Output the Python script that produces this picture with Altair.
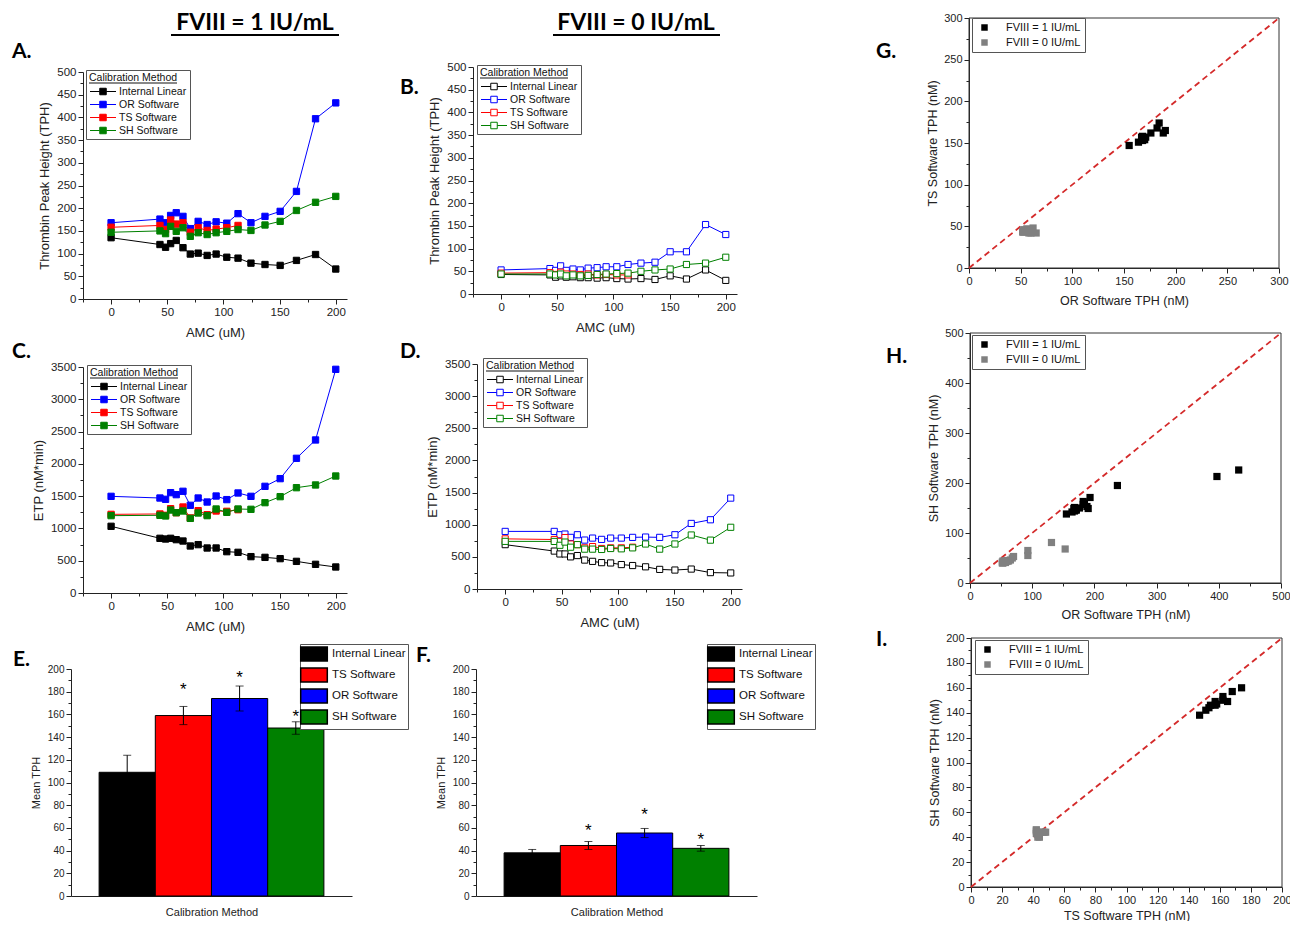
import altair as alt
import pandas as pd

W, H = 1282, 913
FONT = "Liberation Sans"
HFONT = "Lato"

# ---------------- data ----------------
AMC = [0, 43.5, 48.5, 53, 58, 64, 70.5, 77.5, 85.5, 93.5, 103, 113, 124.5, 137, 150.5, 165, 182, 200]
METHODS = ["Internal Linear", "OR Software", "TS Software", "SH Software"]
LINE_COLORS = ["#000000", "#0000ff", "#ff0000", "#008000"]

# Thrombin peak height, FVIII = 1 IU/mL (panel A)
tph1_il = [135, 120, 114, 122, 129, 113, 99, 101, 96, 99, 92, 90, 79, 76, 74, 85, 98, 66]
tph1_or = [168, 176, 168, 184, 190, 182, 155, 171, 164, 170, 167, 188, 168, 182, 193, 237, 397, 432]
tph1_ts = [158, 162, 153, 174, 165, 168, 147, 157, 151, 154, 157, 162]
tph1_sh = [147, 150, 144, 160, 149, 157, 138, 146, 142, 146, 149, 153, 151, 163, 171, 195, 213, 226]

# Thrombin peak height, FVIII = 0 IU/mL (panel B)
tph0_il = [43, 42, 37, 40, 37, 38, 36, 36, 35, 36, 34, 33, 34, 32, 40, 33, 53, 30]
tph0_or = [53, 56, 52, 62, 52, 55, 53, 57, 58, 60, 60, 65, 68, 70, 93, 93, 153, 131]
tph0_ts = [46, 47, 43, 48, 44, 44, 43, 44, 42, 43, 42, 42]
tph0_sh = [44, 44, 42, 44, 40, 42, 40, 41, 43, 44, 45, 46, 50, 53, 55, 65, 68, 81]

# ETP, FVIII = 1 IU/mL (panel C)
etp1_il = [1033, 847, 836, 847, 826, 805, 728, 749, 697, 697, 640, 630, 563, 552, 532, 490, 444, 403]
etp1_or = [1497, 1471, 1451, 1554, 1523, 1575, 1358, 1471, 1409, 1502, 1446, 1549, 1497, 1652, 1771, 2086, 2370, 3464]
etp1_ts = [1218, 1224, 1203, 1306, 1244, 1332, 1162, 1275, 1213, 1270, 1265, 1290]
etp1_sh = [1198, 1203, 1193, 1285, 1244, 1270, 1156, 1239, 1198, 1301, 1249, 1301, 1296, 1399, 1492, 1631, 1673, 1812]

# ETP, FVIII = 0 IU/mL (panel D)
etp0_il = [690, 590, 545, 545, 500, 520, 450, 430, 410, 405, 380, 365, 345, 305, 295, 310, 255, 250]
etp0_or = [896, 896, 844, 855, 803, 844, 761, 792, 772, 792, 792, 803, 808, 803, 844, 1020, 1077, 1414]
etp0_ts = [780, 770, 740, 800, 700, 690, 640, 660, 630, 640, 640, 650]
etp0_sh = [741, 740, 680, 730, 650, 690, 620, 620, 615, 630, 625, 640, 700, 620, 700, 840, 760, 960]

# Mean TPH bars (panels E, F)
BAR_METHODS = ["Internal Linear", "TS Software", "OR Software", "SH Software"]
BAR_COLORS = ["#000000", "#ff0000", "#0000ff", "#008000"]
mean1 = [109, 159, 174, 148]
err1 = [15, 8, 11, 5.5]
star1 = [184, 195, 160]
mean0 = [38, 44.5, 55.5, 42]
err0 = [3, 3.5, 4, 2.5]
star0 = [60, 74, 52]

GROUPS = ["FVIII = 1 IU/mL", "FVIII = 0 IU/mL"]
GROUP_COLORS = ["#000000", "#808080"]


# ---------------- helpers ----------------
def minor_axis(orient, offset, values):
    return alt.Axis(orient=orient, offset=offset, values=values, labels=False, domain=False,
                    title=None, tickSize=3, grid=False)


def mids(lo, hi, step):
    return [v + step / 2 for v in range(lo, hi, step)]


def line_panel(series, ymax, ystep, ytitle, xr, yr, hollow, lx, ly):
    rows = [{"AMC": a, "Method": m, "Value": v}
            for m, vals in zip(METHODS, series) for a, v in zip(AMC, vals)]
    df = pd.DataFrame(rows)
    xs = alt.Scale(domain=[-25, 210], range=xr, nice=False, zero=False)
    ys = alt.Scale(domain=[0, ymax], range=yr, nice=False, zero=False)
    xax = alt.Axis(orient="bottom", offset=yr[0] - H, values=[0, 50, 100, 150, 200],
                   title="AMC (uM)", labelFlush=False, labelFontSize=11.5, titleFontSize=13,
                   titlePadding=9, format="d")
    yax = alt.Axis(orient="left", offset=-xr[0], values=list(range(0, ymax + 1, ystep)),
                   title=ytitle, labelFlush=False, labelFontSize=11.5, titleFontSize=13,
                   titlePadding=5, format="d")
    cs = alt.Scale(domain=METHODS, range=LINE_COLORS)
    leg = alt.Legend(orient="none", legendX=lx, legendY=ly, title="Calibration Method",
                     symbolType="M-2,0H-0.5M0.5,0H2M-0.5,-0.5H0.5V0.5H-0.5Z",
                     symbolSize=169, symbolStrokeWidth=1, symbolOffset=7,
                     labelOffset=9, labelFontSize=10.5, titleFontSize=10.5,
                     titleFontWeight="normal", strokeColor="#555",
                     padding=3, rowPadding=0, titlePadding=1, labelColor="#111",
                     titleColor="#111")
    line = alt.Chart(df).mark_line(strokeWidth=1).encode(
        x=alt.X("AMC:Q", scale=xs, axis=xax), y=alt.Y("Value:Q", scale=ys, axis=yax),
        stroke=alt.Stroke("Method:N", scale=cs, legend=leg))
    X = alt.X("AMC:Q", scale=xs, axis=None)
    Y = alt.Y("Value:Q", scale=ys, axis=None)
    if hollow:
        pts = alt.Chart(df).mark_point(shape="square", filled=True, fill="white",
                                        size=38, strokeWidth=1, opacity=1).encode(
            x=X, y=Y, stroke=alt.Stroke("Method:N", scale=cs, legend=leg))
    else:
        pts = alt.Chart(df).mark_point(shape="square", filled=True, size=40,
                                        strokeWidth=1, opacity=1).encode(
            x=X, y=Y,
            fill=alt.Fill("Method:N", scale=cs, legend=leg),
            stroke=alt.Stroke("Method:N", scale=cs, legend=leg))
    minor = alt.Chart(df).mark_point(opacity=0).encode(
        x=alt.X("AMC:Q", scale=xs, axis=minor_axis("bottom", yr[0] - H, [-25, 25, 75, 125, 175])),
        y=alt.Y("Value:Q", scale=ys, axis=minor_axis("left", -xr[0], mids(0, ymax, ystep))))
    uline = alt.Chart(pd.DataFrame({"t": [0]})).mark_rule(color="#111", strokeWidth=1).encode(
        x=alt.value(lx + 3), x2=alt.value(lx + 91), y=alt.value(ly + 13))
    return alt.layer(line, pts, minor, uline).resolve_axis(x="independent", y="independent")


def bar_panel(means, errs, stars, xr, yr, lx, ly):
    df = pd.DataFrame({"Method": BAR_METHODS, "Mean": means, "Err": errs})
    df["Lo"] = df["Mean"] - df["Err"]
    df["Hi"] = df["Mean"] + df["Err"]
    sdf = pd.DataFrame({"Method": BAR_METHODS[1:], "Star": stars})
    xs = alt.Scale(domain=BAR_METHODS, range=xr, paddingInner=0, paddingOuter=0.5)
    ys = alt.Scale(domain=[0, 200], range=yr, nice=False, zero=False)
    xax = alt.Axis(orient="bottom", offset=yr[0] - H, labels=False, ticks=False,
                   title="Calibration Method", titleFontSize=11, titlePadding=10)
    yax = alt.Axis(orient="left", offset=-xr[0], values=list(range(0, 201, 20)),
                   title="Mean TPH", labelFontSize=10, titleFontSize=11,
                   labelFlush=False, titlePadding=6)
    Xa = alt.X("Method:N", scale=xs, axis=xax, sort=BAR_METHODS)
    X = alt.X("Method:N", scale=xs, axis=None, sort=BAR_METHODS)
    leg = alt.Legend(orient="none", legendX=lx, legendY=ly, title=None,
                     symbolType="M-1.9,-1H1.9V1H-1.9Z", symbolSize=196,
                     symbolOffset=4, labelOffset=10, labelFontSize=11.5,
                     strokeColor="#555", fillColor="white", padding=2, rowPadding=1,
                     labelColor="#111")
    bars = alt.Chart(df).mark_bar(stroke="#000", strokeWidth=1).encode(
        x=Xa, y=alt.Y("Mean:Q", scale=ys, axis=yax),
        color=alt.Color("Method:N", scale=alt.Scale(domain=BAR_METHODS, range=BAR_COLORS),
                        legend=leg, sort=BAR_METHODS))
    rule = alt.Chart(df).mark_rule(color="#000", strokeWidth=1).encode(
        x=X, y=alt.Y("Lo:Q", scale=ys, axis=None), y2="Hi:Q")
    cap_lo = alt.Chart(df).mark_tick(color="#000", size=8, thickness=1).encode(
        x=X, y=alt.Y("Lo:Q", scale=ys, axis=None))
    cap_hi = alt.Chart(df).mark_tick(color="#000", size=8, thickness=1).encode(
        x=X, y=alt.Y("Hi:Q", scale=ys, axis=None))
    st = alt.Chart(sdf).mark_text(text="*", fontSize=17, baseline="middle", dy=3,
                                  color="#000").encode(
        x=X, y=alt.Y("Star:Q", scale=ys, axis=None))
    minor = alt.Chart(df).mark_point(opacity=0).encode(
        y=alt.Y("Mean:Q", scale=ys, axis=minor_axis("left", -xr[0], mids(0, 200, 20))))
    return alt.layer(bars, rule, cap_lo, cap_hi, st, minor).resolve_axis(
        x="independent", y="independent")


def scatter_panel(x1, y1, x0, y0, vmax, step, xtitle, ytitle, xr, yr, lx, ly, tpad):
    df = pd.DataFrame({"X": list(x1) + list(x0), "Y": list(y1) + list(y0),
                       "Group": [GROUPS[0]] * len(x1) + [GROUPS[1]] * len(x0)})
    diag = pd.DataFrame({"X": [0, vmax], "Y": [0, vmax]})
    frame = pd.DataFrame({"x0": [0], "x1": [vmax], "y0": [0], "y1": [vmax]})
    xs = alt.Scale(domain=[0, vmax], range=xr, nice=False, zero=False)
    ys = alt.Scale(domain=[0, vmax], range=yr, nice=False, zero=False)
    xax = alt.Axis(orient="bottom", offset=yr[0] - H, values=list(range(0, vmax + 1, step)),
                   title=xtitle, labelFlush=False, labelFontSize=11, titleFontSize=12.5,
                   titlePadding=tpad)
    yax = alt.Axis(orient="left", offset=-xr[0], values=list(range(0, vmax + 1, step)),
                   title=ytitle, labelFlush=False, labelFontSize=11, titleFontSize=12.5,
                   titlePadding=4)
    leg = alt.Legend(orient="none", legendX=lx, legendY=ly, title=None,
                     symbolType="square", symbolSize=42, labelOffset=16,
                     symbolOffset=3, labelFontSize=11, strokeColor="#555",
                     fillColor="white", padding=4, rowPadding=3, labelColor="#111")
    box = alt.Chart(frame).mark_rect(fillOpacity=0, stroke="#333", strokeWidth=1).encode(
        x=alt.X("x0:Q", scale=xs, axis=xax), x2="x1:Q",
        y=alt.Y("y0:Q", scale=ys, axis=yax), y2="y1:Q")
    dline = alt.Chart(diag).mark_line(color="#d42a2a", strokeWidth=1.8,
                                      strokeDash=[6, 4]).encode(
        x=alt.X("X:Q", scale=xs, axis=None), y=alt.Y("Y:Q", scale=ys, axis=None))
    pts = alt.Chart(df).mark_square(size=52, opacity=1).encode(
        x=alt.X("X:Q", scale=xs, axis=None), y=alt.Y("Y:Q", scale=ys, axis=None),
        color=alt.Color("Group:N", scale=alt.Scale(domain=GROUPS, range=GROUP_COLORS),
                        legend=leg, sort=GROUPS))
    minor = alt.Chart(diag).mark_point(opacity=0).encode(
        x=alt.X("X:Q", scale=xs, axis=minor_axis("bottom", yr[0] - H, mids(0, vmax, step))),
        y=alt.Y("Y:Q", scale=ys, axis=minor_axis("left", -xr[0], mids(0, vmax, step))))
    return alt.layer(box, dline, pts, minor).resolve_axis(x="independent", y="independent")


def text_layer(txt, x, y, size, font=HFONT, weight="bold", align="left"):
    return alt.Chart(pd.DataFrame({"t": [txt]})).mark_text(
        align=align, baseline="middle", fontSize=size, fontWeight=weight, font=font,
        color="#000").encode(text="t:N", x=alt.value(x), y=alt.value(y))


def rule_layer(x1, x2, y, width=2):
    return alt.Chart(pd.DataFrame({"t": [0]})).mark_rule(color="#000", strokeWidth=width).encode(
        x=alt.value(x1), x2=alt.value(x2), y=alt.value(y))


# ---------------- panels ----------------
pA = line_panel([tph1_il, tph1_or, tph1_ts, tph1_sh], 500, 50, "Thrombin Peak Height (TPH)",
                [75, 339], [291, 64], False, 78, 62)
pB = line_panel([tph0_il, tph0_or, tph0_ts, tph0_sh], 500, 50, "Thrombin Peak Height (TPH)",
                [465, 729], [286, 59], True, 469, 57)
pC = line_panel([etp1_il, etp1_or, etp1_ts, etp1_sh], 3500, 500, "ETP (nM*min)",
                [75, 339], [585, 359], False, 79, 357)
pD = line_panel([etp0_il, etp0_or, etp0_ts, etp0_sh], 3500, 500, "ETP (nM*min)",
                [469, 734], [581, 356], True, 475, 350)
pE = bar_panel(mean1, err1, star1, [63, 344], [888, 661], 292, 636)
pF = bar_panel(mean0, err0, star0, [468, 749], [888, 661], 699, 636)

pG = scatter_panel(tph1_or[:12], tph1_ts, tph0_or[:12], tph0_ts, 300, 50,
                   "OR Software TPH (nM)", "TS Software TPH (nM)",
                   [961, 1271], [260, 10], 964, 10, 8)
pH = scatter_panel(tph1_or, tph1_sh, tph0_or, tph0_sh, 500, 100,
                   "OR Software TPH (nM)", "SH Software TPH (nM)",
                   [962, 1273], [575, 325], 964, 327, 7)
pI = scatter_panel(tph1_ts, tph1_sh[:12], tph0_ts, tph0_sh[:12], 200, 20,
                   "TS Software TPH (nM)", "SH Software TPH (nM)",
                   [963, 1274], [879, 630], 967, 632, 4)

annotations = [
    text_layer("FVIII = 1 IU/mL", 247, 15, 23, align="center"),
    rule_layer(163, 331, 27),
    text_layer("FVIII = 0 IU/mL", 628, 15, 23, align="center"),
    rule_layer(545, 712, 27),
    text_layer("A.", 4, 44, 21),
    text_layer("B.", 392, 80, 21),
    text_layer("C.", 4, 344, 21),
    text_layer("D.", 392, 344, 21),
    text_layer("E.", 5, 652, 21),
    text_layer("F.", 408, 648, 21),
    text_layer("G.", 868, 44, 21),
    text_layer("H.", 878, 349, 21),
    text_layer("I.", 868, 632, 21),
]

chart = alt.layer(pA, pB, pC, pD, pE, pF, pG, pH, pI, *annotations).resolve_scale(
    x="independent", y="independent", color="independent",
    fill="independent", stroke="independent"
).properties(
    width=W, height=H, autosize=alt.AutoSizeParams(type="none"), padding=0
).configure_view(
    strokeOpacity=0
).configure_axis(
    labelFont=FONT, titleFont=FONT, titleFontWeight="normal", labelColor="#222",
    titleColor="#222", domainColor="#222", tickColor="#222", tickSize=5, grid=False,
    labelPadding=2
).configure_legend(
    labelFont=FONT, titleFont=FONT
).configure_text(font=FONT)

chart.save("out.html", embed_options={"renderer": "svg", "actions": False})
